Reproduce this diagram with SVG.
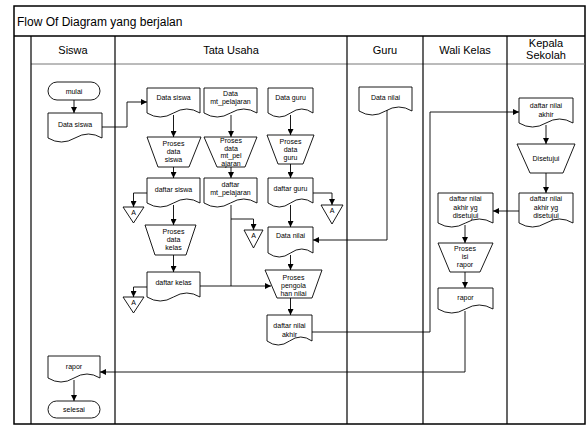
<svg xmlns="http://www.w3.org/2000/svg" width="587" height="426" viewBox="0 0 587 426">
<style>
.frame{fill:none;stroke:#000;stroke-width:1.5}
.lane{stroke:#000;stroke-width:1.2}
.sub{stroke:#777;stroke-width:1}
.s{fill:#fff;stroke:#000;stroke-width:0.9}
.t{font-family:"Liberation Sans",Arial,sans-serif;font-size:7px;text-anchor:middle;fill:#000}
.h{font-family:"Liberation Sans",Arial,sans-serif;font-size:11px;text-anchor:middle;fill:#000}
.c{fill:none;stroke:#000;stroke-width:0.9}
.a{marker-end:url(#ah)}
</style>
<defs>
<marker id="ah" markerUnits="userSpaceOnUse" markerWidth="6" markerHeight="6" refX="6" refY="3" orient="auto">
<path d="M0,0 L6,3 L0,6 z" fill="#000"/>
</marker>
</defs>
<rect width="587" height="426" fill="#fff"/>
<g id="frame">
<rect class="frame" x="14" y="6" width="571" height="418"/>
<line class="frame" x1="14" y1="36" x2="585" y2="36"/>
<line class="sub" x1="31" y1="64" x2="585" y2="64"/>
<line class="lane" x1="31" y1="36" x2="31" y2="424"/>
<line class="lane" x1="115" y1="36" x2="115" y2="424"/>
<line class="lane" x1="347" y1="36" x2="347" y2="424"/>
<line class="lane" x1="423" y1="36" x2="423" y2="424"/>
<line class="lane" x1="507" y1="36" x2="507" y2="424"/>
<text x="17" y="26" font-family="Liberation Sans, Arial, sans-serif" font-size="12">Flow Of Diagram yang berjalan</text>
<text class="h" x="73" y="54">Siswa</text>
<text class="h" x="231" y="54">Tata Usaha</text>
<text class="h" x="385" y="54">Guru</text>
<text class="h" x="465" y="54">Wali Kelas</text>
<text class="h" x="546" y="47">Kepala</text>
<text class="h" x="546" y="59">Sekolah</text>
</g>
<g id="connectors">
<path class="c a" d="M74,100 V113"/>
<path class="c a" d="M102,127 H127 V102 H147"/>
<path class="c a" d="M173.5,115 V137"/>
<path class="c a" d="M231,115 V137"/>
<path class="c a" d="M290.5,115 V135"/>
<path class="c a" d="M173.5,167 V178"/>
<path class="c a" d="M231,167 V178"/>
<path class="c a" d="M290.5,164 V178"/>
<path class="c a" d="M147,193 H133.5 V207"/>
<path class="c a" d="M173.5,205 V225"/>
<path class="c a" d="M173.5,255 V272"/>
<path class="c a" d="M147,287 H133.5 V297"/>
<path class="c a" d="M200,286 H271"/>
<path class="c" d="M231,205 V286"/>
<path class="c a" d="M231,219 H253.5 V230"/>
<path class="c a" d="M313,193 H332 V205"/>
<path class="c a" d="M290.5,205 V227"/>
<path class="c a" d="M387,110 V240 H313"/>
<path class="c a" d="M290.5,255 V270"/>
<path class="c a" d="M290.5,298 V315"/>
<path class="c a" d="M312,332 H430 V112 H519"/>
<path class="c a" d="M546,125 V144"/>
<path class="c a" d="M546,173 V193"/>
<path class="c a" d="M519,211 H493"/>
<path class="c a" d="M465,225 V243"/>
<path class="c a" d="M465,272 V288"/>
<path class="c a" d="M465,311 V372 H100"/>
<path class="c a" d="M74,380 V401"/>
</g>
<g id="mulai"><rect class="s" x="48" y="82" width="52" height="18" rx="9"/><text class="t" x="74" y="93.5">mulai</text></g>
<g id="siswa-data-siswa"><path class="s" d="M48,113 h54 v25 q-13.5,-8 -27,0 t-27,0 z"/><text class="t" x="75" y="126.5">Data siswa</text></g>
<g id="tu-data-siswa"><path class="s" d="M147,88 h53 v25 q-13.25,-8 -26.5,0 t-26.5,0 z"/><text class="t" x="173.5" y="100">Data siswa</text></g>
<g id="data-mt-pelajaran"><path class="s" d="M204,88 h53 v25 q-13.25,-8 -26.5,0 t-26.5,0 z"/><text class="t" x="230.5" y="96">Data</text><text class="t" x="230.5" y="104">mt_pelajaran</text></g>
<g id="data-guru"><path class="s" d="M268,88 h45 v25 q-11.25,-8 -22.5,0 t-22.5,0 z"/><text class="t" x="290.5" y="100">Data guru</text></g>
<g id="guru-data-nilai"><path class="s" d="M359,87 h53 v24 q-13.25,-8 -26.5,0 t-26.5,0 z"/><text class="t" x="385.5" y="99.5">Data nilai</text></g>
<g id="proses-data-siswa"><polygon class="s" points="147,137 201,137 189,167 158,167"/><text class="t" x="173.5" y="146">Proses</text><text class="t" x="173.5" y="154">data</text><text class="t" x="173.5" y="162">siswa</text></g>
<g id="proses-data-mt-pel"><polygon class="s" points="204,137 257,137 245,167 217,167"/><text class="t" x="231" y="143">Proses</text><text class="t" x="231" y="150.5">data</text><text class="t" x="231" y="158">mt_pel</text><text class="t" x="231" y="165.5">ajaran</text></g>
<g id="proses-data-guru"><polygon class="s" points="267,135 314,135 303,164 278,164"/><text class="t" x="290.5" y="144">Proses</text><text class="t" x="290.5" y="152">data</text><text class="t" x="290.5" y="160">guru</text></g>
<g id="daftar-siswa"><path class="s" d="M147,178 h53 v25 q-13.25,-8 -26.5,0 t-26.5,0 z"/><text class="t" x="173.5" y="192">daftar siswa</text></g>
<g id="daftar-mt-pelajaran"><path class="s" d="M204,178 h53 v25 q-13.25,-8 -26.5,0 t-26.5,0 z"/><text class="t" x="230.5" y="187">daftar</text><text class="t" x="230.5" y="195">mt_pelajaran</text></g>
<g id="daftar-guru"><path class="s" d="M268,178 h45 v25 q-11.25,-8 -22.5,0 t-22.5,0 z"/><text class="t" x="290.5" y="191">daftar guru</text></g>
<g id="a1"><polygon class="s" points="123,207 144,207 133.5,223"/><text class="t" x="133.5" y="214.5">A</text></g>
<g id="a2"><polygon class="s" points="123,297 144,297 133.5,313"/><text class="t" x="133.5" y="304.5">A</text></g>
<g id="a3"><polygon class="s" points="244,230 263,230 253.5,248"/><text class="t" x="253.5" y="237.5">A</text></g>
<g id="a4"><polygon class="s" points="321,205 343,205 332,224"/><text class="t" x="332" y="212.5">A</text></g>
<g id="proses-data-kelas"><polygon class="s" points="145,225 196,225 186,255 155,255"/><text class="t" x="173.5" y="234">Proses</text><text class="t" x="173.5" y="242">data</text><text class="t" x="173.5" y="250">kelas</text></g>
<g id="daftar-kelas"><path class="s" d="M147,272 h53 v25 q-13.25,-8 -26.5,0 t-26.5,0 z"/><text class="t" x="173.5" y="285">daftar kelas</text></g>
<g id="tu-data-nilai"><path class="s" d="M268,227 h45 v26 q-11.25,-8 -22.5,0 t-22.5,0 z"/><text class="t" x="290.5" y="238">Data nilai</text></g>
<g id="proses-pengolahan"><polygon class="s" points="265,270 322,270 312,298 277,298"/><text class="t" x="293.5" y="280">Proses</text><text class="t" x="293.5" y="288">pengola</text><text class="t" x="293.5" y="296">han nilai</text></g>
<g id="tu-daftar-nilai-akhir"><path class="s" d="M267,315 h45 v26 q-11.25,-8 -22.5,0 t-22.5,0 z"/><text class="t" x="289.5" y="328">daftar nilai</text><text class="t" x="289.5" y="337">akhir</text></g>
<g id="kepala-daftar-nilai-akhir"><path class="s" d="M519,98 h54 v25 q-13.5,-8 -27,0 t-27,0 z"/><text class="t" x="546" y="107.5">daftar nilai</text><text class="t" x="546" y="116.5">akhir</text></g>
<g id="disetujui"><polygon class="s" points="517,144 575,144 563,173 530,173"/><text class="t" x="546" y="160.5">Disetujui</text></g>
<g id="kepala-yg-disetujui"><path class="s" d="M519,193 h54 v30 q-13.5,-8 -27,0 t-27,0 z"/><text class="t" x="546" y="201">daftar nilai</text><text class="t" x="546" y="209.5">akhir yg</text><text class="t" x="546" y="218">disetujui</text></g>
<g id="wali-yg-disetujui"><path class="s" d="M438,193 h55 v30 q-13.75,-8 -27.5,0 t-27.5,0 z"/><text class="t" x="465.5" y="201">daftar nilai</text><text class="t" x="465.5" y="209.5">akhir yg</text><text class="t" x="465.5" y="218">disetujui</text></g>
<g id="proses-isi-rapor"><polygon class="s" points="438,243 493,243 480,272 450,272"/><text class="t" x="465" y="251">Proses</text><text class="t" x="465" y="259">isi</text><text class="t" x="465" y="267">rapor</text></g>
<g id="wali-rapor"><path class="s" d="M438,288 h55 v21 q-13.75,-8 -27.5,0 t-27.5,0 z"/><text class="t" x="465.5" y="300">rapor</text></g>
<g id="siswa-rapor"><path class="s" d="M48,356 h52 v22 q-13,-8 -26,0 t-26,0 z"/><text class="t" x="74" y="369">rapor</text></g>
<g id="selesai"><rect class="s" x="48" y="401" width="52" height="17" rx="8.5"/><text class="t" x="74" y="412">selesai</text></g>
</svg>
